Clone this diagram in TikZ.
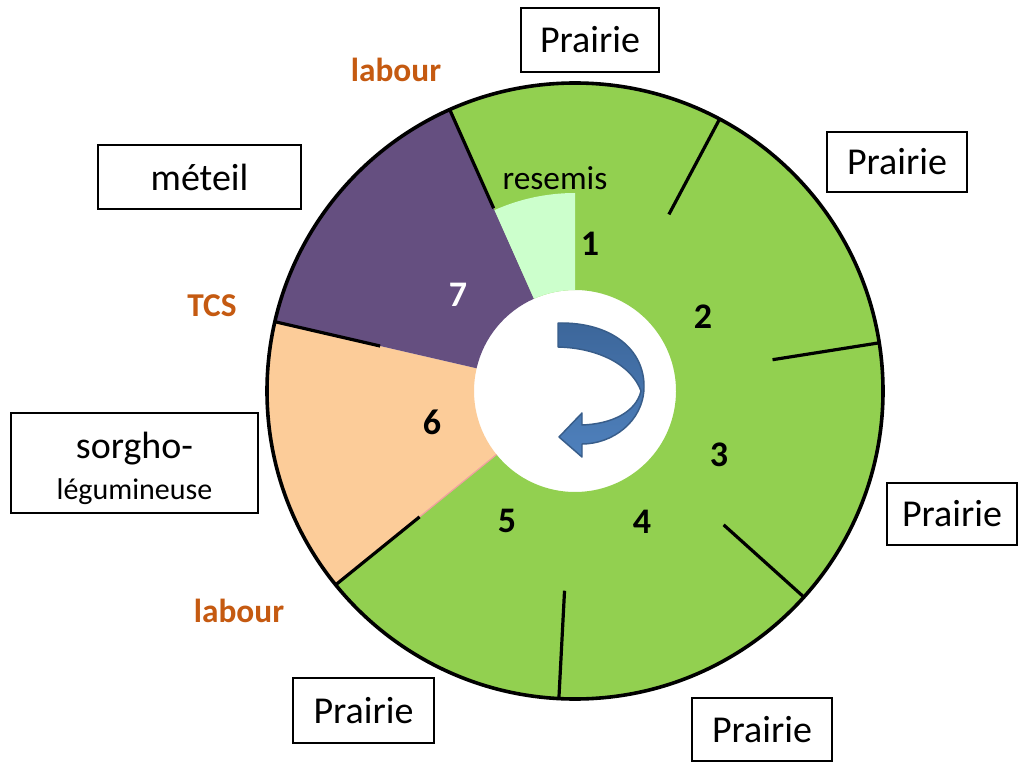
\documentclass[tikz,border=0pt]{standalone}
\usepackage{fontspec}
\setmainfont{Carlito}
\definecolor{grn}{RGB}{146,208,80}
\definecolor{prp}{RGB}{101,79,128}
\definecolor{pch}{RGB}{252,204,153}
\definecolor{lgt}{RGB}{204,255,204}
\definecolor{org}{RGB}{197,90,17}
\definecolor{arrfill}{RGB}{79,129,189}
\definecolor{arrtop}{RGB}{60,102,154}
\definecolor{arrline}{RGB}{56,93,138}
\definecolor{pnk}{RGB}{240,160,160}
\tikzset{
  box/.style={draw=black, line width=1.4pt, fill=white, inner sep=0pt, align=center,
    font=\fontsize{28.5}{34}\selectfont},
  num/.style={font=\fontsize{27}{32}\selectfont\bfseries, inner sep=0pt},
  act/.style={font=\fontsize{25}{30}\selectfont\bfseries, text=org, inner sep=0pt},
  tick/.style={line width=2.4pt, black},
}
\begin{document}
\begin{tikzpicture}[x=0.75pt,y=0.75pt]
\fill[white] (0,0) rectangle (1019,-762);
\useasboundingbox (0,0) rectangle (1019,-762);
\begin{scope}[shift={(575,-391)}]
  % green sector (1-5)
  \fill[grn] (114:101) -- (114:308) arc[start angle=114, end angle=-141, radius=308]
     -- (-141:101) arc[start angle=-141, end angle=114, radius=101] -- cycle;
  % peach sector (6)
  \fill[pch] (167:101) -- (167:308) arc[start angle=167, end angle=219, radius=308]
     -- (219:101) arc[start angle=219, end angle=167, radius=101] -- cycle;
  % purple sector (7)
  \fill[prp] (114:101) -- (114:308) arc[start angle=114, end angle=167, radius=308]
     -- (167:101) arc[start angle=167, end angle=114, radius=101] -- cycle;
  % resemis zone
  \fill[lgt] (90:101) -- (90:198) arc[start angle=90, end angle=114, radius=198]
     -- (114:101) arc[start angle=114, end angle=90, radius=101] -- cycle;
  % thin pink boundary 5/6
  \draw[pnk, line width=0.9pt] (219:101) -- (219:200);
  % outer circle
  \draw[line width=2.7pt] (0,0) circle[radius=308];
  % ticks
  \foreach \a in {114,62,9,-42,-93,-141,167}
    \draw[tick] (\a:200) -- (\a:308);
\end{scope}
% curved arrow
\draw[line width=1.1pt, arrline, top color=arrtop, bottom color=arrfill, line join=round]
  (558,-323) .. controls (612,-322) and (645,-350) .. (644,-388)
  .. controls (643,-422) and (612,-444) .. (582,-444)
  -- (582,-457) -- (559,-437) -- (582,-413) -- (582,-425)
  .. controls (612,-424) and (636,-412) .. (641,-391)
  .. controls (632,-366) and (600,-348) .. (558,-347) -- cycle;
% numbers
\node[num] (n1) at (590,-244) {1};
\node[num] (n2) at (703,-317) {2};
\node[num] (n3) at (719,-455) {3};
\node[num] (n4) at (642,-522) {4};
\node[num] (n5) at (507,-521) {5};
\node[num] (n6) at (432,-422) {6};
\node[num, text=white] (n7) at (458,-295) {7};
\node[font=\fontsize{25}{30}\selectfont, inner sep=0pt] (res) at (555,-178) {resemis};
% action labels
\node[act] (lab1) at (396,-70) {labour};
\node[act] (tcs) at (212,-306) {TCS};
\node[act] (lab2) at (239,-611) {labour};
% boxes
\node[box, minimum width=103.5pt, minimum height=48pt] (p1) at (590,-40) {Prairie};
\node[box, minimum width=105pt, minimum height=45pt] (p2) at (897,-162) {Prairie};
\node[box, minimum width=97.5pt, minimum height=46.5pt] (p3) at (952,-514) {Prairie};
\node[box, minimum width=105pt, minimum height=47pt] (p4) at (762,-729.5) {Prairie};
\node[box, minimum width=105.75pt, minimum height=48.75pt] (p5) at (363.5,-710.5) {Prairie};
\node[box, minimum width=152.25pt, minimum height=48pt] (met) at (199.5,-177) {méteil};
\node[box, minimum width=185.25pt, minimum height=75pt] (sor) at (134.5,-463)
  {\rule{0pt}{28pt}sorgho-\\[-3pt]{\fontsize{22.5}{27}\selectfont légumineuse}};
\end{tikzpicture}
\end{document}
